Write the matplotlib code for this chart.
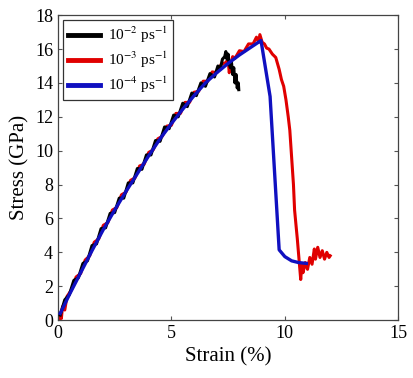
import numpy as np
import matplotlib
matplotlib.use("Agg")
import matplotlib.pyplot as plt

plt.rcParams['font.family'] = ['Liberation Serif', 'DejaVu Serif']
plt.rcParams['mathtext.fontset'] = 'stix'

# 10^-2 ps^-1 (black)
black_strain = [0.1, 0.3, 0.5, 0.7, 0.9, 1.1, 1.3, 1.5, 1.7, 1.9, 2.1, 2.3, 2.5, 2.7, 2.9,
                3.1, 3.3, 3.5, 3.7, 3.9, 4.1, 4.3, 4.5, 4.7, 4.9, 5.1, 5.3, 5.5, 5.7, 5.9,
                6.1, 6.3, 6.5, 6.7, 6.9, 7.05, 7.15, 7.25, 7.35, 7.4, 7.45, 7.5, 7.55, 7.6,
                7.65, 7.7, 7.75, 7.8, 7.85, 7.9, 7.95, 7.97]
black_stress = [0.3, 1.2, 1.5, 2.35, 2.5, 3.35, 3.5, 4.4, 4.5, 5.4, 5.45, 6.3, 6.35, 7.2, 7.2,
                8.1, 8.1, 8.95, 8.9, 9.75, 9.75, 10.6, 10.55, 11.4, 11.3, 12.1, 12.0, 12.8, 12.6, 13.4,
                13.25, 14.0, 13.8, 14.55, 14.35, 15.0, 14.8, 15.4, 15.55, 15.85, 15.4, 15.7, 15.1, 14.9,
                15.2, 14.5, 14.9, 14.0, 14.5, 13.7, 14.0, 13.6]

# 10^-3 ps^-1 (red)
red_strain = [0.05, 0.1, 0.15, 0.2, 0.3, 0.4, 0.6, 0.8, 1.0, 1.2, 1.4, 1.6, 1.8, 2.0, 2.2,
              2.4, 2.6, 2.8, 3.0, 3.2, 3.4, 3.6, 3.8, 4.0, 4.2, 4.4, 4.6, 4.8, 5.0, 5.2,
              5.4, 5.6, 5.8, 6.0, 6.2, 6.4, 6.6, 6.8, 7.0, 7.2, 7.4, 7.5, 7.55, 7.6, 7.7,
              7.8, 8.0, 8.2, 8.4, 8.6, 8.75, 8.85, 8.9, 9.0, 9.1, 9.2, 9.3, 9.45, 9.6,
              9.75, 9.85, 9.95, 10.05, 10.15, 10.22, 10.28, 10.33, 10.38, 10.43, 10.5, 10.55,
              10.6, 10.65, 10.7, 10.75, 10.8, 10.9, 11.0, 11.1, 11.2, 11.3, 11.35, 11.45,
              11.55, 11.65, 11.75, 11.85, 11.95, 12.0]
red_stress = [0.0, 0.4, 0.1, 0.8, 0.6, 1.4, 1.8, 2.55, 2.75, 3.55, 3.8, 4.6, 4.8, 5.6, 5.75,
              6.5, 6.65, 7.4, 7.55, 8.25, 8.4, 9.1, 9.2, 9.9, 10.05, 10.7, 10.85, 11.45, 11.5, 12.2,
              12.2, 12.85, 12.85, 13.45, 13.5, 14.1, 14.1, 14.65, 14.6, 15.1, 15.2, 15.4, 14.6, 15.0, 15.55,
              15.45, 15.9, 15.85, 16.3, 16.3, 16.7, 16.4, 16.85, 16.4, 16.3, 16.05, 16.0, 15.7, 15.5,
              14.8, 14.2, 13.8, 13.0, 12.0, 11.2, 10.0, 9.0, 8.0, 6.5, 5.5, 4.8,
              4.0, 3.2, 2.4, 3.3, 2.8, 3.4, 3.0, 3.7, 3.3, 4.2, 3.6, 4.3,
              3.7, 4.1, 3.6, 4.0, 3.7, 3.8]

# 10^-4 ps^-1 (blue)
blue_strain = [0.1, 0.5, 1.0, 1.5, 2.0, 2.5, 3.0, 3.5, 4.0, 4.5, 5.0, 5.5, 6.0, 6.5, 7.0,
               7.5, 8.0, 8.5, 8.95, 9.35, 9.75, 10.0, 10.3, 10.6, 10.95]
blue_stress = [0.4, 1.5, 2.8, 4.1, 5.35, 6.5, 7.6, 8.65, 9.7, 10.7, 11.6, 12.45, 13.25, 14.0, 14.6,
               15.15, 15.65, 16.1, 16.5, 13.2, 4.15, 3.75, 3.5, 3.4, 3.35]

fig, ax = plt.subplots(figsize=(4.14, 3.78), dpi=100)
fig.subplots_adjust(left=0.14, right=0.962, top=0.96, bottom=0.153)

ax.plot(black_strain, black_stress, color='black', lw=2.2, label='10$^{-2}$ ps$^{-1}$', zorder=3)
ax.plot(red_strain, red_stress, color='#e00000', lw=2.2, label='10$^{-3}$ ps$^{-1}$', zorder=2)
ax.plot(blue_strain, blue_stress, color='#1010c0', lw=2.4, label='10$^{-4}$ ps$^{-1}$', zorder=4)

ax.set_xlim(0, 15)
ax.set_ylim(0, 18)
ax.set_xticks([0, 5, 10, 15])
ax.set_yticks(np.arange(0, 19, 2))
ax.tick_params(direction='in', top=True, right=True, labelsize=13, length=3, color='#555555')
for s in ax.spines.values():
    s.set_color('#444444')
    s.set_linewidth(0.9)

ax.set_xlabel('Strain (%)', fontsize=15)
ax.set_ylabel('Stress (GPa)', fontsize=15)

leg = ax.legend(loc='upper left', fontsize=11, handlelength=2.1, frameon=True,
                fancybox=False, edgecolor='black', borderpad=0.35, labelspacing=0.3,
                handletextpad=0.5, borderaxespad=0.3)
leg.get_frame().set_linewidth(0.9)
for line in leg.get_lines():
    line.set_linewidth(3.5)

fig.savefig('out.png', dpi=100)
